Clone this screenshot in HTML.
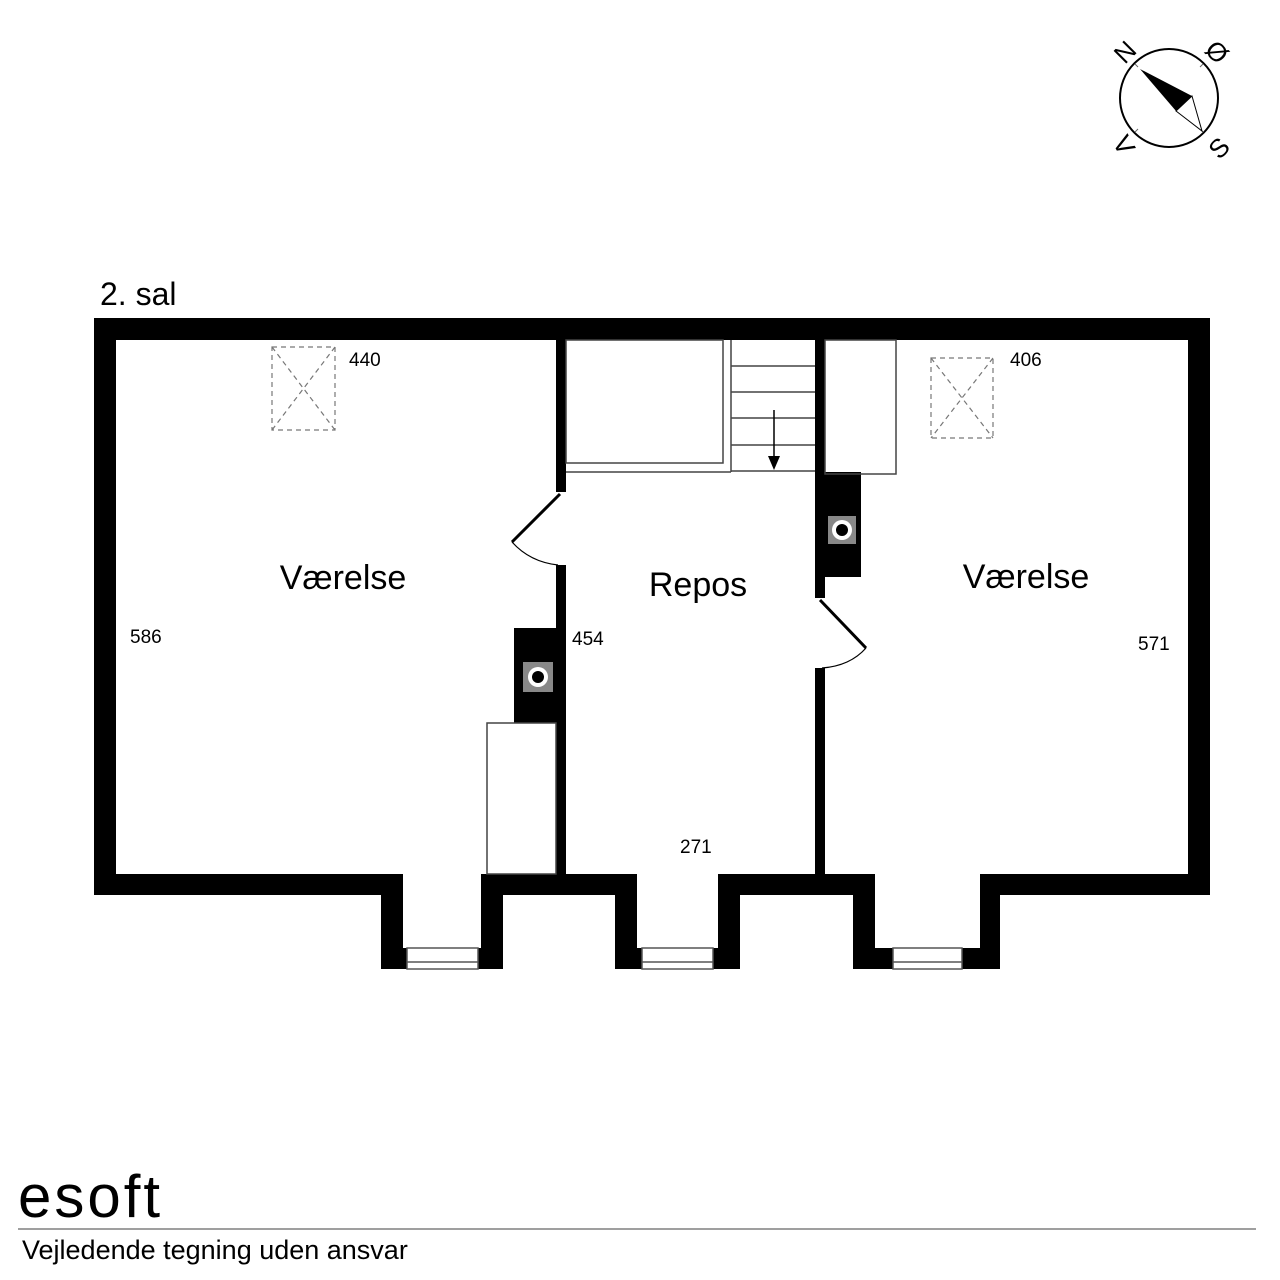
<!DOCTYPE html>
<html><head><meta charset="utf-8"><style>
html,body{margin:0;padding:0;background:#fff}
svg{display:block}
text{font-family:"Liberation Sans",sans-serif;fill:#000}
</style></head><body>
<svg width="1280" height="1280" viewBox="0 0 1280 1280" xmlns="http://www.w3.org/2000/svg">
<rect width="1280" height="1280" fill="#fff"/>
<!-- compass -->
<g transform="translate(1169,98)">
<circle r="49" fill="none" stroke="#000" stroke-width="2"/>
<g stroke="#666" stroke-width="1"><line x1="-34" y1="-34" x2="-31" y2="-31"/><line x1="34" y1="-34" x2="31" y2="-31"/><line x1="-34" y1="34" x2="-31" y2="31"/><line x1="34" y1="34" x2="31" y2="31"/></g>
<polygon points="-29,-29 23,-2 7,13" fill="#000"/>
<polygon points="23,-2 7,13 33,33" fill="#fff" stroke="#000" stroke-width="1"/>
<text x="-44" y="-37" font-size="26" transform="rotate(-45 -44 -46)" text-anchor="middle">N</text>
<text x="48" y="-37" font-size="26" transform="rotate(45 48 -46)" text-anchor="middle">Ø</text>
<text x="-45" y="56" font-size="26" transform="rotate(60 -45 47)" text-anchor="middle">V</text>
<text x="50" y="59" font-size="26" transform="rotate(-45 50 50)" text-anchor="middle">S</text>
</g>
<text x="100" y="305" font-size="32">2. sal</text>
<!-- walls -->
<path fill="#000" fill-rule="evenodd" d="M94,318 L1210,318 L1210,895 L1000,895 L1000,969 L853,969 L853,895 L740,895 L740,969 L615,969 L615,895 L503,895 L503,969 L381,969 L381,895 L94,895 Z
M116,340 L1188,340 L1188,874 L980,874 L980,948 L875,948 L875,874 L718,874 L718,948 L637,948 L637,874 L481,874 L481,948 L403,948 L403,874 L116,874 Z"/>
<!-- windows -->
<g fill="#fff" stroke="#555" stroke-width="1.5">
<rect x="407" y="948" width="71" height="21"/><line x1="407" y1="962" x2="478" y2="962"/>
<rect x="642" y="948" width="71" height="21"/><line x1="642" y1="962" x2="713" y2="962"/>
<rect x="893" y="948" width="69" height="21"/><line x1="893" y1="962" x2="962" y2="962"/>
</g>
<!-- partitions -->
<rect x="556" y="340" width="10" height="152" fill="#000"/>
<rect x="556" y="565" width="10" height="309" fill="#000"/>
<rect x="815" y="340" width="10" height="258" fill="#000"/>
<rect x="815" y="668" width="10" height="206" fill="#000"/>
<!-- doors -->
<g fill="none" stroke="#000">
<line x1="560" y1="494" x2="512" y2="542" stroke-width="3"/>
<path d="M512,542 Q530,562 558,565" stroke-width="1.2"/>
<line x1="820" y1="600" x2="866" y2="648" stroke-width="3"/>
<path d="M866,648 Q850,666 822,668" stroke-width="1.2"/>
</g>
<!-- chimneys -->
<rect x="514" y="628" width="42" height="95" fill="#000"/>
<rect x="523" y="662" width="30" height="30" fill="#888"/>
<circle cx="538" cy="677" r="10" fill="#fff"/><circle cx="538" cy="677" r="6" fill="#000"/>
<rect x="825" y="472" width="36" height="105" fill="#000"/>
<rect x="828" y="516" width="28" height="28" fill="#888"/>
<circle cx="842" cy="530" r="10" fill="#fff"/><circle cx="842" cy="530" r="6" fill="#000"/>
<!-- cabinets -->
<g fill="none" stroke="#444" stroke-width="1.5">
<rect x="487" y="723" width="69" height="151"/>
<rect x="825" y="340" width="71" height="134"/>
<rect x="566" y="340" width="157" height="123"/>
<line x1="566" y1="472" x2="731" y2="472"/>
<line x1="731" y1="340" x2="731" y2="472"/>
<line x1="731" y1="366" x2="815" y2="366"/>
<line x1="731" y1="392" x2="815" y2="392"/>
<line x1="731" y1="418" x2="815" y2="418"/>
<line x1="731" y1="445" x2="815" y2="445"/>
<line x1="731" y1="471" x2="815" y2="471"/>
<line x1="774" y1="410" x2="774" y2="462" stroke="#000"/>
</g>
<polygon points="768,456 780,456 774,470" fill="#000"/>
<!-- skylights -->
<g fill="none" stroke="#777" stroke-width="1.2" stroke-dasharray="5,4">
<rect x="272" y="347" width="63" height="83"/>
<line x1="272" y1="347" x2="335" y2="430"/><line x1="335" y1="347" x2="272" y2="430"/>
<rect x="931" y="358" width="62" height="80"/>
<line x1="931" y1="358" x2="993" y2="438"/><line x1="993" y1="358" x2="931" y2="438"/>
</g>
<!-- labels -->
<text x="343" y="589" font-size="34" text-anchor="middle">Værelse</text>
<text x="698" y="596" font-size="34" text-anchor="middle">Repos</text>
<text x="1026" y="588" font-size="34" text-anchor="middle">Værelse</text>
<g font-size="19">
<text x="349" y="366">440</text>
<text x="130" y="643">586</text>
<text x="572" y="645">454</text>
<text x="680" y="853">271</text>
<text x="1010" y="366">406</text>
<text x="1138" y="650">571</text>
</g>
<!-- footer -->
<text x="18" y="1217" font-size="60" letter-spacing="3">esoft</text>
<line x1="18" y1="1229" x2="1256" y2="1229" stroke="#666" stroke-width="1.2"/>
<text x="22" y="1259" font-size="27">Vejledende tegning uden ansvar</text>
</svg>
</body></html>
